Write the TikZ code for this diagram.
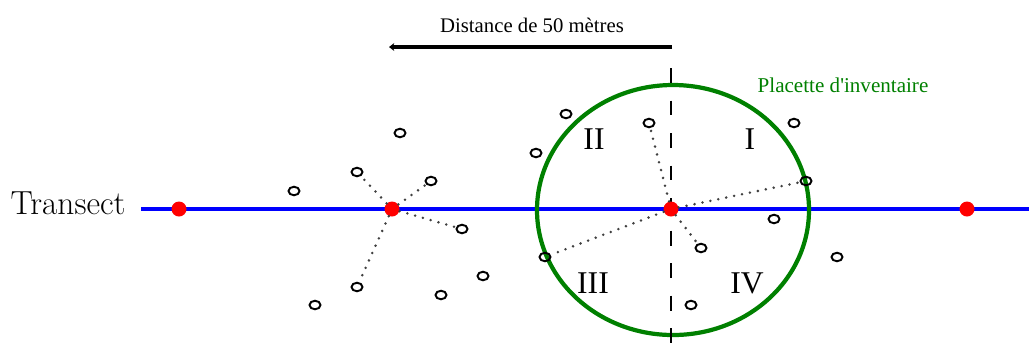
\documentclass[tikz,border=0pt]{standalone}
\usepackage{fontspec}
\newfontfamily\timesfont{Liberation Serif}
\usetikzlibrary{arrows.meta,shapes.geometric}
\definecolor{plotgreen}{RGB}{0,128,0}
\tikzset{
  tree/.style={ellipse, draw=black, line width=1.1pt, minimum width=2.2mm, minimum height=1.7mm, inner sep=0pt},
  station/.style={circle, fill=red, minimum size=3mm, inner sep=0pt},
  dotline/.style={draw=black!75, line width=1.6pt, line cap=round, dash pattern=on 0pt off 4.6pt},
  quarter/.style={font=\timesfont\fontsize{18}{20}\selectfont}
}
\begin{document}
\begin{tikzpicture}[x=0.2mm, y=-0.2mm, >={Stealth[length=3pt,width=4.5pt]}]
    \useasboundingbox (0,0) rectangle (1029,349);

    % Transect
    \coordinate (tS) at (141,209);
    \coordinate (tE) at (1029,209);
    \draw[blue, line width=2.8pt] (tS) -- (tE);
    \node[font=\fontsize{19}{21}\selectfont] (transect) at (68,203) {Transect};

    % Distance arrow
    \coordinate (aS) at (672,47);
    \coordinate (aE) at (389,47);
    \draw[->, line width=2.6pt] (aS) -- (aE);
    \node[font=\timesfont\fontsize{11.8}{13}\selectfont] (dist) at (532,25) {Distance de 50 mètres};

    % Inventory plot
    \draw[plotgreen, line width=2.4pt] (673,210) ellipse [x radius=136, y radius=125];
    \coordinate (vS) at (671,68);
    \coordinate (vE) at (671,349);
    \draw[line width=1.1pt, dash pattern=on 8.5pt off 10pt] (vS) -- (vE);
    \node[text=plotgreen, font=\timesfont\fontsize{12}{14}\selectfont] (plot) at (843,85) {Placette d'inventaire};

    % Quarters
    \node[quarter] (q1) at (750,139) {I};
    \node[quarter] (q2) at (594,139) {II};
    \node[quarter] (q3) at (593,283) {III};
    \node[quarter] (q4) at (747,283) {IV};

    % Trees
    \foreach \name/\pos in {a1/{400,133}, a2/{357,172}, a3/{431,181}, a4/{294,191},
        a5/{462,229}, a6/{483,276}, a7/{441,295}, a8/{357,287}, a9/{315,305},
        b1/{566,114}, b2/{536,153}, b3/{649,123}, b4/{794,123}, b5/{806,181},
        b6/{774,219}, b7/{701,248}, b8/{837,257}, b9/{545,257}, b10/{691,305}}
      \node[tree] (\name) at (\pos) {};

    % Sampling points
    \node[station] (p1) at (179,209) {};
    \node[station] (p2) at (392,209) {};
    \node[station] (p3) at (671,209) {};
    \node[station] (p4) at (967,209) {};

    % Nearest trees per quarter
    \foreach \t in {a2,a3,a5,a8}
      \draw[dotline] (p2) -- (\t);
    \foreach \t in {b3,b5,b7,b9}
      \draw[dotline] (p3) -- (\t);
\end{tikzpicture}
\end{document}
